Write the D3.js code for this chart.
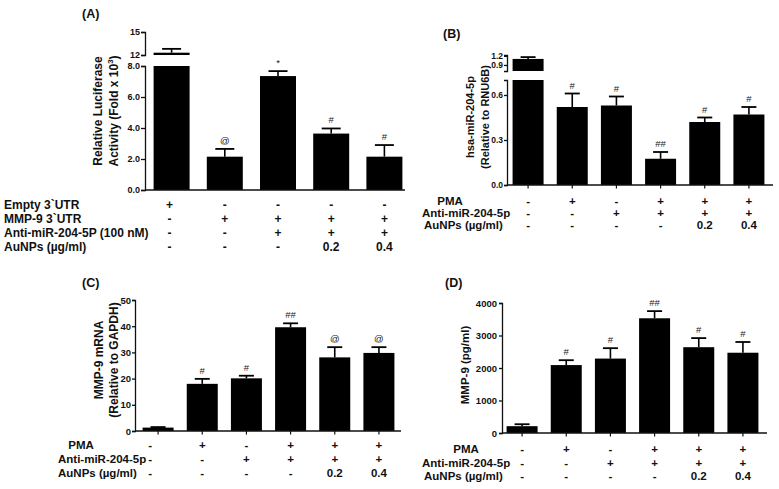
<!DOCTYPE html>
<html>
<head>
<meta charset="utf-8">
<script src="https://cdn.jsdelivr.net/npm/d3@7"></script>
<style>
  html, body { margin: 0; padding: 0; background: #fff; }
  svg { display: block; font-family: "Liberation Sans", Arial, sans-serif; }
  .tick text { font-weight: bold; }
</style>
</head>
<body>
<svg id="chart" width="779" height="489"></svg>
<script>
// ---------------- DATA ----------------
// Panel A: luciferase
const aCategories = ["1", "2", "3", "4", "5"];
const aValues = [12.3, 2.15, 7.35, 3.64, 2.15];
const aErrors = [0.5, 0.5, 0.32, 0.33, 0.75];
const aMarks = ["", "@", "*", "#", "#"];
const aRowLabels = ["Empty 3`UTR", "MMP-9 3`UTR", "Anti-miR-204-5P (100 nM)", "AuNPs (\u00b5g/ml)"];
const aRowEmpty = ["+", "-", "-", "-", "-"];
const aRowMMP = ["-", "+", "+", "+", "+"];
const aRowAnti = ["-", "-", "+", "+", "+"];
const aRowAu = ["-", "-", "-", "0.2", "0.4"];
const aTicksLow = [0, 2, 4, 6, 8];
const aTicksHigh = [12, 15];

// Panels B, C, D share treatment rows
const treatCategories = ["1", "2", "3", "4", "5", "6"];
const rowLabels = ["PMA", "Anti-miR-204-5p", "AuNPs (\u00b5g/ml)"];
const rowPMA = ["-", "+", "-", "+", "+", "+"];
const rowAnti = ["-", "-", "+", "+", "+", "+"];
const rowAu = ["-", "-", "-", "-", "0.2", "0.4"];

// Panel B: hsa-miR-204-5p
const bValues = [1.1, 0.52, 0.53, 0.175, 0.42, 0.47];
const bErrors = [0.06, 0.09, 0.06, 0.045, 0.03, 0.05];
const bMarks = ["", "#", "#", "##", "#", "#"];
const bTicksLow = [0.0, 0.3, 0.6];
const bTicksHigh = [0.9, 1.2];

// Panel C: MMP-9 mRNA
const cValues = [1.3, 18.0, 20.1, 39.6, 28.1, 29.8];
const cErrors = [0.2, 1.9, 1.0, 1.5, 3.9, 2.2];
const cMarks = ["", "#", "#", "##", "@", "@"];
const cTicks = [0, 10, 20, 30, 40, 50];

// Panel D: MMP-9 protein
const dValues = [210, 2090, 2290, 3530, 2640, 2470];
const dErrors = [60, 150, 320, 220, 280, 330];
const dMarks = ["", "#", "#", "##", "#", "#"];
const dTicks = [0, 1000, 2000, 3000, 4000];

// ---------------- DRAWING ----------------
const svg = d3.select("#chart");
const INK = "#111";

function drawAxisSegment(g, scale, ticks, fmt, x, cfg) {
  const ax = d3.axisLeft(scale).tickValues(ticks).tickFormat(fmt)
    .tickSize(cfg.tickSize).tickSizeOuter(cfg.tickSize).tickPadding(cfg.tickPad);
  const a = g.append("g").attr("transform", `translate(${x},0)`).call(ax);
  a.select(".domain").attr("stroke", INK).attr("stroke-width", 1.3);
  a.selectAll(".tick line").attr("stroke", INK).attr("stroke-width", 1.3);
  a.selectAll(".tick text").attr("fill", INK).attr("font-size", cfg.tickFont).attr("font-weight", "bold");
  return a;
}

function drawPanel(cfg) {
  const g = svg.append("g");
  const x = d3.scalePoint().domain(cfg.categories).range(cfg.xRange).padding(0.5);
  const bw = cfg.barWidth;
  const low = d3.scaleLinear().domain(cfg.lowDomain).range(cfg.lowRange);
  const high = cfg.highDomain ? d3.scaleLinear().domain(cfg.highDomain).range(cfg.highRange) : null;
  const lowMax = cfg.lowDomain[1];

  // y axis
  drawAxisSegment(g, low, cfg.lowTicks, cfg.fmt, cfg.axisX, cfg);
  if (high) drawAxisSegment(g, high, cfg.highTicks, cfg.fmtHigh || cfg.fmt, cfg.axisX, cfg);

  const yOf = v => (high && v > lowMax) ? high(v) : low(v);

  // bars
  cfg.values.forEach((v, i) => {
    const cx = x(cfg.categories[i]);
    if (high && v > lowMax) {
      g.append("rect").attr("x", cx - bw / 2).attr("width", bw)
        .attr("y", low(lowMax)).attr("height", low(0) - low(lowMax)).attr("fill", "#000");
      g.append("rect").attr("x", cx - bw / 2).attr("width", bw)
        .attr("y", high(v)).attr("height", high(cfg.highDomain[0]) - high(v)).attr("fill", "#000");
    } else {
      g.append("rect").attr("x", cx - bw / 2).attr("width", bw)
        .attr("y", low(v)).attr("height", low(0) - low(v)).attr("fill", "#000");
    }
    const top = yOf(v + cfg.errors[i]);
    const base = yOf(v);
    g.append("line").attr("x1", cx).attr("x2", cx).attr("y1", base).attr("y2", top)
      .attr("stroke", "#000").attr("stroke-width", 1.6);
    g.append("line").attr("x1", cx - cfg.capWidth / 2).attr("x2", cx + cfg.capWidth / 2)
      .attr("y1", top).attr("y2", top).attr("stroke", "#000").attr("stroke-width", 1.8);
    if (cfg.marks[i]) {
      g.append("text").attr("x", cx).attr("y", top - 5).attr("text-anchor", "middle")
        .attr("font-size", 9.5).attr("fill", "#222").text(cfg.marks[i]);
    }
  });

  // x axis baseline
  g.append("line").attr("x1", cfg.axisX).attr("x2", cfg.xAxisEnd)
    .attr("y1", low(0)).attr("y2", low(0)).attr("stroke", INK).attr("stroke-width", 1.3);
  if (cfg.xTicks) {
    cfg.categories.forEach(c => {
      g.append("line").attr("x1", x(c)).attr("x2", x(c)).attr("y1", low(0)).attr("y2", low(0) + 3.5)
        .attr("stroke", INK).attr("stroke-width", 1.2);
    });
  }

  // y titles
  cfg.yTitles.forEach(t => {
    const txt = g.append("text")
      .attr("transform", `translate(${t.x},${cfg.yTitleCY}) rotate(-90)`)
      .attr("text-anchor", "middle").attr("font-size", cfg.yTitleSize).attr("font-weight", "bold")
      .attr("fill", INK);
    if (t.sup) {
      txt.append("tspan").text(t.text);
      txt.append("tspan").attr("dy", -5).attr("font-size", cfg.yTitleSize * 0.65).text(t.sup);
      txt.append("tspan").attr("dy", 5).text(t.after);
    } else {
      txt.text(t.text);
    }
  });

  // panel letter
  g.append("text").attr("x", cfg.letterX).attr("y", cfg.letterY).attr("font-size", 12.5)
    .attr("font-weight", "bold").attr("fill", INK).text(cfg.letter);

  // treatment rows
  cfg.rows.forEach((r, k) => {
    const y = cfg.rowY[k];
    const lab = g.append("text").attr("y", y).attr("dy", "0.35em").attr("font-size", cfg.rowSize)
      .attr("font-weight", "bold").attr("fill", INK).text(r.label)
      .attr("x", r.lx).attr("text-anchor", r.anchor || "start");
    r.values.forEach((s, i) => {
      const px = x(cfg.categories[i]) + (i === 0 ? (cfg.firstColShift || 0) : 0);
      g.append("text").attr("x", px).attr("y", y).attr("dy", "0.35em")
        .attr("text-anchor", "middle").attr("font-size", cfg.rowSize).attr("font-weight", "bold")
        .attr("fill", INK).text(s);
    });
  });
}

// Panel A
drawPanel({
  categories: aCategories, values: aValues, errors: aErrors, marks: aMarks,
  xRange: [145, 411], barWidth: 36, capWidth: 19, axisX: 145, xAxisEnd: 405, xTicks: false,
  lowDomain: [0, 8], lowRange: [190, 66], lowTicks: aTicksLow, fmt: d3.format(".1f"),
  highDomain: [12, 15], highRange: [55, 32], highTicks: aTicksHigh, fmtHigh: d3.format("d"),
  tickSize: 4, tickPad: 1, tickFont: 9,
  yTitles: [{ x: 102, text: "Relative Luciferase" },
            { x: 118, text: "Activity (Fold x 10", sup: "3", after: ")" }],
  yTitleCY: 111, yTitleSize: 12,
  letter: "(A)", letterX: 82, letterY: 18,
  rows: [
    { label: aRowLabels[0], values: aRowEmpty, lx: 4 },
    { label: aRowLabels[1], values: aRowMMP, lx: 4 },
    { label: aRowLabels[2], values: aRowAnti, lx: 4 },
    { label: aRowLabels[3], values: aRowAu, lx: 4 }
  ],
  rowY: [205, 219, 233, 247], rowSize: 12, firstColShift: -2
});

// Panel B
drawPanel({
  categories: treatCategories, values: bValues, errors: bErrors, marks: bMarks,
  xRange: [506, 771], barWidth: 31, capWidth: 15, axisX: 507, xAxisEnd: 773, xTicks: true,
  lowDomain: [0, 0.7], lowRange: [185, 80], lowTicks: bTicksLow, fmt: d3.format(".1f"),
  highDomain: [0.7, 1.23], highRange: [71, 55], highTicks: bTicksHigh,
  tickSize: 3, tickPad: 1, tickFont: 8.5,
  yTitles: [{ x: 474, text: "hsa-miR-204-5p" }, { x: 489, text: "(Relative to RNU6B)" }],
  yTitleCY: 117, yTitleSize: 11,
  letter: "(B)", letterX: 443, letterY: 38,
  rows: [
    { label: rowLabels[0], values: rowPMA, lx: 450, anchor: "middle" },
    { label: rowLabels[1], values: rowAnti, lx: 422 },
    { label: rowLabels[2], values: rowAu, lx: 424 }
  ],
  rowY: [201, 213, 225], rowSize: 11.5
});

// Panel C
drawPanel({
  categories: treatCategories, values: cValues, errors: cErrors, marks: cMarks,
  xRange: [136, 401], barWidth: 31, capWidth: 15, axisX: 135, xAxisEnd: 401, xTicks: true,
  lowDomain: [0, 50], lowRange: [431, 300], lowTicks: cTicks, fmt: d3.format("d"),
  tickSize: 3, tickPad: 1, tickFont: 9.5,
  yTitles: [{ x: 103, text: "MMP-9 mRNA" }, { x: 118, text: "(Relative to GAPDH)" }],
  yTitleCY: 360, yTitleSize: 12,
  letter: "(C)", letterX: 82, letterY: 287,
  rows: [
    { label: rowLabels[0], values: rowPMA, lx: 81, anchor: "middle" },
    { label: rowLabels[1], values: rowAnti, lx: 58 },
    { label: rowLabels[2], values: rowAu, lx: 58 }
  ],
  rowY: [445, 459, 473], rowSize: 11.5, firstColShift: -8
});

// Panel D
drawPanel({
  categories: treatCategories, values: dValues, errors: dErrors, marks: dMarks,
  xRange: [500, 765], barWidth: 31, capWidth: 15, axisX: 502, xAxisEnd: 767, xTicks: true,
  lowDomain: [0, 4000], lowRange: [433, 303], lowTicks: dTicks, fmt: d3.format("d"),
  tickSize: 3, tickPad: 2, tickFont: 9.5,
  yTitles: [{ x: 469, text: "MMP-9 (pg/ml)" }],
  yTitleCY: 365, yTitleSize: 11.5,
  letter: "(D)", letterX: 445, letterY: 287,
  rows: [
    { label: rowLabels[0], values: rowPMA, lx: 466, anchor: "middle" },
    { label: rowLabels[1], values: rowAnti, lx: 422 },
    { label: rowLabels[2], values: rowAu, lx: 424 }
  ],
  rowY: [449, 463, 476], rowSize: 11.5
});
</script>
</body>
</html>
